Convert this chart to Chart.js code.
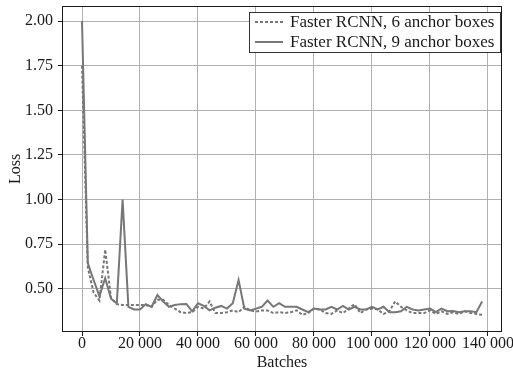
<!DOCTYPE html>
<html>
<head>
<meta charset="utf-8">
<script src="https://cdn.jsdelivr.net/npm/chart.js@4.4.1/dist/chart.umd.min.js"></script>
<style>
  html, body { margin: 0; padding: 0; background: #fff; }
  #wrap { width: 513px; height: 372px; }
</style>
</head>
<body>
<div id="wrap"><canvas id="chartLoss"></canvas></div>
<script>
/* ---- data ---- */
const batches = [
  0, 2000, 4000, 6000, 8000, 10000, 12000, 14000, 16000, 18000,
  20000, 22000, 24000, 26000, 28000, 30000, 32000, 34000, 36000, 38000,
  40000, 42000, 44000, 46000, 48000, 50000, 52000, 54000, 56000, 58000,
  60000, 62000, 64000, 66000, 68000, 70000, 72000, 74000, 76000, 78000,
  80000, 82000, 84000, 86000, 88000, 90000, 92000, 94000, 96000, 98000,
  100000, 102000, 104000, 106000, 108000, 110000, 112000, 114000, 116000, 118000,
  120000, 122000, 124000, 126000, 128000, 130000, 132000, 134000, 136000, 138000
];

const loss6 = [
  1.75, 0.62, 0.48, 0.435, 0.72, 0.45, 0.415, 0.41, 0.41, 0.41,
  0.41, 0.41, 0.40, 0.44, 0.44, 0.41, 0.39, 0.37, 0.365, 0.37,
  0.40, 0.39, 0.43, 0.365, 0.365, 0.37, 0.38, 0.37, 0.40, 0.38,
  0.373, 0.38, 0.38, 0.365, 0.37, 0.365, 0.37, 0.38, 0.355, 0.365,
  0.39, 0.385, 0.365, 0.36, 0.38, 0.365, 0.39, 0.415, 0.365, 0.385,
  0.39, 0.385, 0.36, 0.375, 0.43, 0.40, 0.38, 0.365, 0.365, 0.365,
  0.38, 0.36, 0.375, 0.36, 0.37, 0.36, 0.375, 0.365, 0.36, 0.355
];

const loss9 = [
  2.00, 0.645, 0.55, 0.46, 0.56, 0.445, 0.42, 1.00, 0.40, 0.385,
  0.385, 0.415, 0.40, 0.466, 0.43, 0.40, 0.41, 0.415, 0.416, 0.375,
  0.42, 0.405, 0.38, 0.395, 0.405, 0.39, 0.42, 0.55, 0.39, 0.38,
  0.39, 0.40, 0.435, 0.40, 0.42, 0.40, 0.40, 0.40, 0.385, 0.37,
  0.39, 0.385, 0.385, 0.40, 0.385, 0.405, 0.385, 0.40, 0.385, 0.385,
  0.40, 0.385, 0.40, 0.37, 0.37, 0.375, 0.40, 0.385, 0.38, 0.385,
  0.39, 0.37, 0.39, 0.375, 0.377, 0.37, 0.375, 0.375, 0.37, 0.43
];

const seriesLabels = ["Faster RCNN, 6 anchor boxes", "Faster RCNN, 9 anchor boxes"];
const xTicks = [0, 20000, 40000, 60000, 80000, 100000, 120000, 140000];
const yTicks = [0.50, 0.75, 1.00, 1.25, 1.50, 1.75, 2.00];

/* ---- styling ---- */
const FONT = "'Liberation Serif', 'Times New Roman', serif";
const LINE = "#777777";
const GRID = "#b0b0b0";
const INK = "#1a1a1a";

Chart.defaults.font.family = FONT;
Chart.defaults.color = INK;

function fmtThousands(v) {
  return String(v).replace(/\B(?=(\d{3})+(?!\d))/g, " ");
}

/* frame round the plot + legend inside it */
const framePlugin = {
  id: "frame",
  afterDraw(chart) {
    const { ctx, chartArea: a } = chart;
    ctx.save();
    ctx.strokeStyle = INK;
    ctx.lineWidth = 1;
    ctx.strokeRect(a.left + 0.5, a.top + 0.5, a.right - a.left - 1, a.bottom - a.top - 1);

    // legend box, upper right
    const bx = 249.5, by = 12.5, bw = 251, bh = 40;
    ctx.fillStyle = "#fff";
    ctx.fillRect(bx, by, bw, bh);
    ctx.strokeStyle = "#333";
    ctx.strokeRect(bx, by, bw, bh);

    const rows = [
      { y: 22, dash: [3, 2] },
      { y: 42, dash: [] }
    ];
    ctx.font = "17px " + FONT;
    ctx.textBaseline = "middle";
    rows.forEach((r, i) => {
      ctx.strokeStyle = LINE;
      ctx.lineWidth = 2;
      ctx.setLineDash(r.dash);
      ctx.beginPath();
      ctx.moveTo(255, r.y);
      ctx.lineTo(283, r.y);
      ctx.stroke();
      ctx.setLineDash([]);
      ctx.fillStyle = INK;
      ctx.fillText(seriesLabels[i], 290, r.y + 1);
    });
    ctx.restore();
  }
};

new Chart(document.getElementById("chartLoss"), {
  type: "line",
  data: {
    datasets: [
      {
        label: seriesLabels[0],
        data: batches.map((b, i) => ({ x: b, y: loss6[i] })),
        borderColor: LINE,
        borderWidth: 2,
        borderDash: [3, 2],
        pointRadius: 0,
        tension: 0
      },
      {
        label: seriesLabels[1],
        data: batches.map((b, i) => ({ x: b, y: loss9[i] })),
        borderColor: LINE,
        borderWidth: 2,
        pointRadius: 0,
        tension: 0
      }
    ]
  },
  options: {
    responsive: true,
    maintainAspectRatio: false,
    animation: false,
    layout: { padding: { top: 6, right: 11, left: 0, bottom: 0 } },
    plugins: {
      legend: { display: false },
      tooltip: { enabled: false }
    },
    scales: {
      x: {
        type: "linear",
        min: -6900,
        max: 144850,
        afterFit: s => {
          s.height = 40;
          s.paddingLeft = 0;
          s.paddingRight = 0;
        },
        afterBuildTicks: s => { s.ticks = xTicks.map(v => ({ value: v })); },
        grid: { color: GRID, lineWidth: 1, tickColor: INK, tickLength: 4 },
        border: { display: false },
        ticks: {
          font: { size: 16 },
          color: INK,
          padding: -2,
          maxRotation: 0,
          autoSkip: false,
          callback: v => fmtThousands(v)
        },
        title: {
          display: true,
          text: "Batches",
          font: { size: 16 },
          color: INK,
          padding: { top: -3, bottom: 0 }
        }
      },
      y: {
        min: 0.259,
        max: 2.084,
        afterFit: s => {
          s.width = 62;
          s.paddingTop = 0;
          s.paddingBottom = 0;
        },
        afterBuildTicks: s => { s.ticks = yTicks.map(v => ({ value: v })); },
        grid: { color: GRID, lineWidth: 1, tickColor: INK, tickLength: 4 },
        border: { display: false },
        ticks: {
          font: { size: 16 },
          color: INK,
          padding: 5,
          callback: v => v.toFixed(2)
        },
        title: {
          display: true,
          text: "Loss",
          font: { size: 16 },
          color: INK,
          padding: { top: 6, bottom: 0 }
        }
      }
    }
  },
  plugins: [framePlugin]
});
</script>
</body>
</html>
